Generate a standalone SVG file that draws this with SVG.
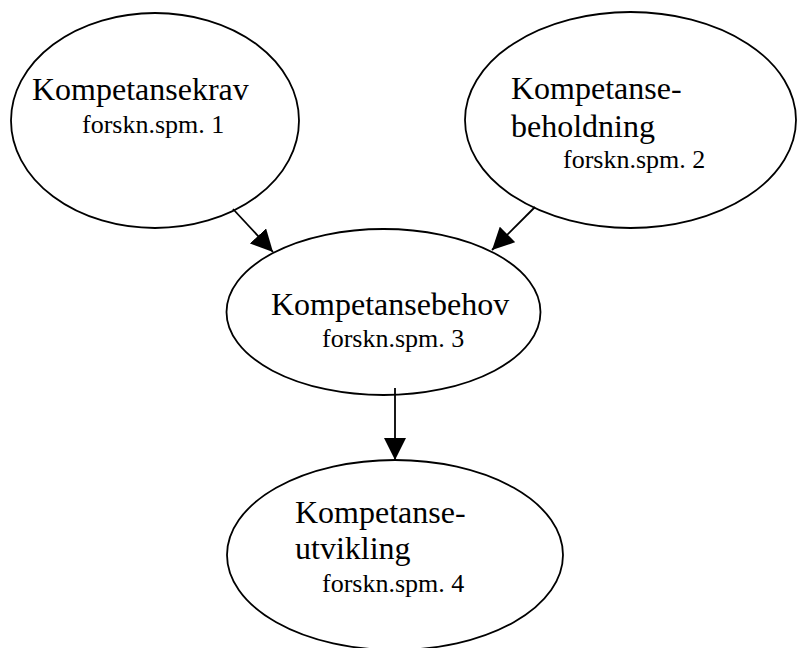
<svg xmlns="http://www.w3.org/2000/svg" width="797" height="648" viewBox="0 0 797 648">
<style>
.node ellipse{fill:#fff;stroke:#000;stroke-width:1.8}
.t{font-family:"Liberation Serif","Times New Roman",serif;fill:#000}
.m{font-size:32px}
.s{font-size:26px}
.edges line{stroke:#000;stroke-width:1.8}
</style>
<defs>
<marker id="ah" markerUnits="userSpaceOnUse" markerWidth="22" markerHeight="22" viewBox="0 0 20 20" refX="20" refY="10" orient="auto">
<path d="M0,0 L20,10 L0,20 Z" fill="#000"/>
</marker>
</defs>
<rect width="797" height="648" fill="#fff"/>
<g id="n1" class="node">
<ellipse cx="155" cy="120.5" rx="144" ry="107.5"/>
<text class="t m" x="32" y="100">Kompetansekrav</text>
<text class="t s" x="82" y="133">forskn.spm. 1</text>
</g>
<g id="n2" class="node">
<ellipse cx="630.5" cy="120" rx="165.5" ry="108"/>
<text class="t m" x="511" y="99">Kompetanse-</text>
<text class="t m" x="511" y="137">beholdning</text>
<text class="t s" x="563" y="168">forskn.spm. 2</text>
</g>
<g id="n3" class="node">
<ellipse cx="383.5" cy="312" rx="157" ry="83"/>
<text class="t m" x="271" y="315">Kompetansebehov</text>
<text class="t s" x="322" y="347">forskn.spm. 3</text>
</g>
<g id="n4" class="node">
<ellipse cx="395" cy="555" rx="168" ry="95"/>
<text class="t m" x="295" y="523">Kompetanse-</text>
<text class="t m" x="295" y="559">utvikling</text>
<text class="t s" x="322" y="592">forskn.spm. 4</text>
</g>
<g id="edges" class="edges">
<line x1="233" y1="209" x2="273" y2="252" marker-end="url(#ah)"/>
<line x1="535" y1="207" x2="492" y2="250" marker-end="url(#ah)"/>
<line x1="395" y1="388" x2="395" y2="460" marker-end="url(#ah)"/>
</g>
</svg>
